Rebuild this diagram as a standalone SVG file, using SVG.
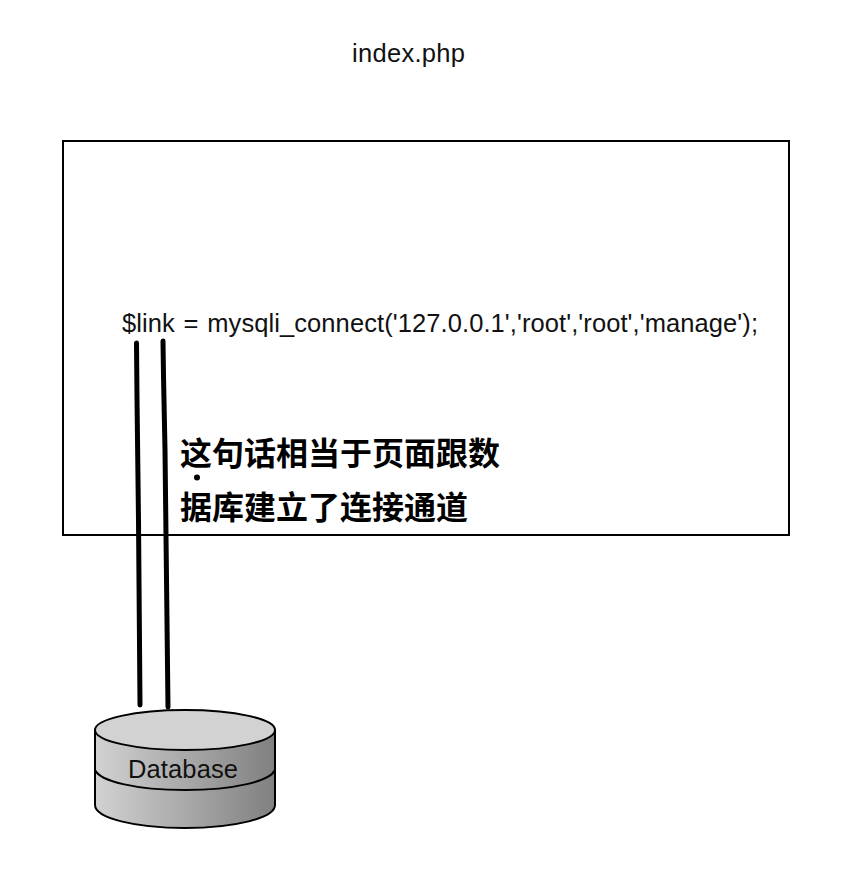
<svg xmlns="http://www.w3.org/2000/svg" width="848" height="870" viewBox="0 0 848 870">
<style>
.t{font-family:"Liberation Sans",Arial,sans-serif;font-size:25.5px;fill:#111}
.c{font-family:"Noto Sans CJK SC","Liberation Sans",sans-serif;font-size:32px;font-weight:700;fill:#000}
.w{fill:none;stroke:#000;stroke-width:5;stroke-linecap:round;stroke-linejoin:round}
.o{stroke:#000;stroke-width:2}
</style>
<defs>
<linearGradient id="g" x1="0" x2="1" y1="0" y2="0"><stop offset="0" stop-color="#d2d2d2"/><stop offset="1" stop-color="#808080"/></linearGradient>
</defs>
<rect width="848" height="870" fill="#fff"/>
<text id="title" class="t" x="352" y="62" textLength="113" lengthAdjust="spacing">index.php</text>
<g id="page"><rect x="63" y="141" width="726" height="394" fill="none" stroke="#000" stroke-width="2"/>
<text class="t" x="122" y="332" word-spacing="1.500" textLength="636" lengthAdjust="spacing">$link = mysqli_connect('127.0.0.1','root','root','manage');</text>
<text class="c" x="180" y="465">这句话相当于页面跟数</text>
<text class="c" x="180" y="519">据库建立了连接通道</text>
<circle cx="197" cy="477.500" r="3" fill="#000"/></g>
<g id="connectors">
<path class="w" d="M136.500 343L137 399L138.500 520L140 705"/>
<path class="w" d="M163 341L163.500 376L165 450L168 707"/>
</g>
<g id="database">
<path class="o" fill="url(#g)" d="M95 730V805C95 818 135 828 185 828S275 818 275 805V730Z"/>
<ellipse class="o" cx="185" cy="730" rx="90" ry="20" fill="#d2d2d2"/>
<path class="o" fill="none" d="M95 770C100 781 135 790 185 790S270 781 275 770"/>
<text class="t" x="128" y="778" textLength="110" lengthAdjust="spacing">Database</text>
</g>
</svg>
